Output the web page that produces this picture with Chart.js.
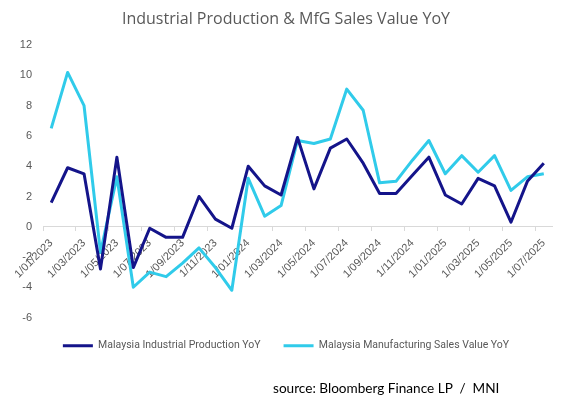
<!DOCTYPE html>
<html>
<head>
<meta charset="utf-8">
<script src="https://cdn.jsdelivr.net/npm/chart.js@4.4.1/dist/chart.umd.min.js"></script>
<style>
  body { margin: 0; background: #fff; overflow: hidden; }
  #wrap { position: relative; width: 572px; height: 398px; }
  #source {
    position: absolute; left: 273px; top: 378px;
    font-family: Lato, sans-serif; font-size: 13.6px; color: #000;
    white-space: pre; line-height: 20px;
  }
</style>
</head>
<body>
<div id="wrap">
  <canvas id="chart" width="572" height="398"></canvas>
  <div id="source">source: Bloomberg Finance LP  /  MNI</div>
</div>
<script>
const months = [
  '1/01/2023','1/02/2023','1/03/2023','1/04/2023','1/05/2023','1/06/2023',
  '1/07/2023','1/08/2023','1/09/2023','1/10/2023','1/11/2023','1/12/2023',
  '1/01/2024','1/02/2024','1/03/2024','1/04/2024','1/05/2024','1/06/2024',
  '1/07/2024','1/08/2024','1/09/2024','1/10/2024','1/11/2024','1/12/2024',
  '1/01/2025','1/02/2025','1/03/2025','1/04/2025','1/05/2025','1/06/2025',
  '1/07/2025'
];
const industrialProduction = [1.6, 3.9, 3.5, -2.8, 4.6, -2.7, -0.1, -0.7, -0.7, 2.0, 0.5, -0.1,
  4.0, 2.7, 2.1, 5.9, 2.5, 5.2, 5.8, 4.2, 2.2, 2.2, 3.4, 4.6,
  2.1, 1.5, 3.2, 2.7, 0.3, 3.0, 4.2];
const mfgSales = [6.5, 10.2, 8.0, -1.7, 3.3, -4.0, -3.0, -3.3, -2.4, -1.4, -2.7, -4.2,
  3.2, 0.7, 1.4, 5.7, 5.5, 5.8, 9.1, 7.7, 2.9, 3.0, 4.4, 5.7,
  3.5, 4.7, 3.6, 4.7, 2.4, 3.3, 3.5];
const seriesNames = ['Malaysia Industrial Production YoY', 'Malaysia Manufacturing Sales Value YoY'];
const yMin = -6, yMax = 12, yStep = 2;

const gray = '#595959';
const axisGray = '#d9d9d9';

const ctx = document.getElementById('chart');
new Chart(ctx, {
  type: 'line',
  data: {
    labels: months,
    datasets: [
      {
        label: seriesNames[0],
        data: industrialProduction,
        borderColor: '#14148a',
        backgroundColor: '#14148a',
        borderWidth: 3,
        pointRadius: 0,
        tension: 0,
        borderJoinStyle: 'round'
      },
      {
        label: seriesNames[1],
        data: mfgSales,
        borderColor: '#30cbea',
        backgroundColor: '#30cbea',
        borderWidth: 3,
        pointRadius: 0,
        tension: 0,
        borderJoinStyle: 'round'
      }
    ]
  },
  options: {
    responsive: false,
    animation: false,
    layout: { padding: { left: 20, right: 20, top: 0, bottom: 37 } },
    plugins: {
      title: {
        display: true,
        text: 'Industrial Production & MfG Sales Value YoY',
        color: gray,
        font: { family: 'Open Sans', size: 16, weight: 'normal' },
        padding: { top: 10, bottom: 16 }
      },
      legend: {
        position: 'bottom',
        labels: {
          usePointStyle: true,
          pointStyle: 'line',
          pointStyleWidth: 30,
          padding: 23,
          color: gray,
          font: { family: 'Roboto', size: 10.5 }
        }
      },
      tooltip: { enabled: false }
    },
    scales: {
      x: {
        type: 'category',
        position: { y: 0 },
        offset: true,
        grid: {
          drawOnChartArea: false,
          offset: true,
          tickLength: 4,
          color: c => (c.index % 2 === 0 ? axisGray : 'rgba(0,0,0,0)')
        },
        border: { color: axisGray, width: 1 },
        ticks: {
          autoSkip: false,
          minRotation: 45,
          maxRotation: 45,
          padding: 6,
          color: gray,
          font: { family: 'Liberation Sans', size: 11 },
          callback: function (value, index) {
            return index % 2 === 0 ? this.getLabelForValue(value) : '';
          }
        },
        afterFit: s => { s.height = 0; s.paddingLeft = 0; s.paddingRight = 0; }
      },
      y: {
        min: yMin,
        max: yMax,
        grid: { display: false, drawTicks: false },
        border: { display: false },
        ticks: {
          stepSize: yStep,
          padding: 11,
          color: gray,
          font: { family: 'Liberation Sans', size: 11 }
        },
        afterFit: s => { s.width = 23; }
      }
    }
  }
});
</script>
</body>
</html>
